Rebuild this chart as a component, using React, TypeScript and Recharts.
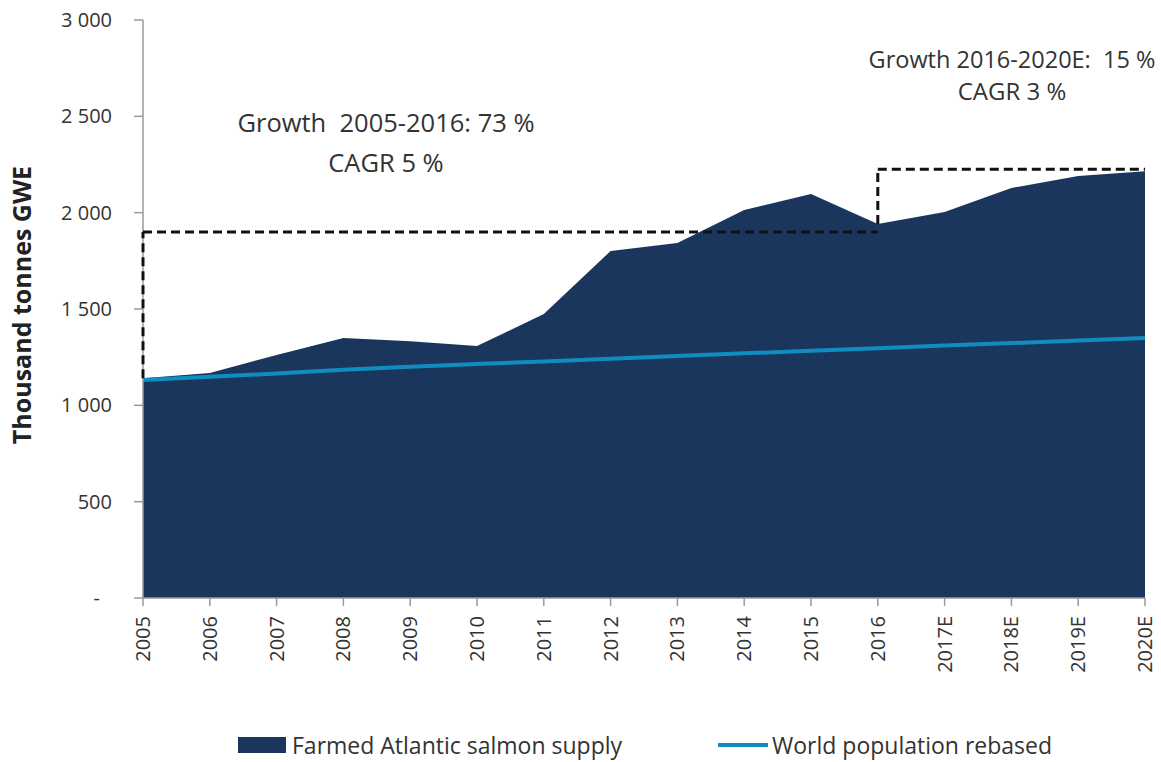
import { FC } from "react";
import {
  Area,
  ComposedChart,
  Legend,
  Line,
  ReferenceLine,
  XAxis,
  YAxis,
} from "recharts";

const years = [
  "2005", "2006", "2007", "2008", "2009", "2010", "2011", "2012",
  "2013", "2014", "2015", "2016", "2017E", "2018E", "2019E", "2020E",
];

// thousand tonnes GWE
const salmonSupply = [
  1140, 1168, 1261, 1350, 1332, 1308, 1474, 1801,
  1843, 2014, 2097, 1941, 2004, 2128, 2190, 2215,
];

// rebased to the 2005 supply
const worldPopulation = [
  1131, 1148, 1165, 1185, 1200, 1214, 1228, 1242,
  1256, 1270, 1283, 1296, 1310, 1323, 1337, 1350,
];

const yTicks = [0, 500, 1000, 1500, 2000, 2500, 3000];

const growthPeriods = [
  { from: "2005", to: "2016", level: 1900 },
  { from: "2016", to: "2020E", level: 2225 },
];

const NAVY = "#1A365D";
const TEAL = "#0F8DBE";
const TEXT = "#333333";
const AXIS = "#9a9a9a";
const FONT = "'Open Sans', sans-serif";

const data = years.map((year, i) => ({
  year,
  supply: salmonSupply[i],
  population: worldPopulation[i],
}));

const supplyAt = (year: string) => salmonSupply[years.indexOf(year)];

const formatThousands = (v: number) =>
  v === 0 ? "-" : String(v).replace(/\B(?=(\d{3})+(?!\d))/g, " ");

const YTick: FC<any> = ({ x, y, payload }) => (
  <text
    x={payload.value === 0 ? x - 12 : x}
    y={y}
    dy="0.35em"
    textAnchor="end"
    fill={TEXT}
    fontSize={20}
    fontFamily={FONT}
  >
    {formatThousands(payload.value)}
  </text>
);

const XTick: FC<any> = ({ x, y, payload }) => (
  <text
    x={x}
    y={y}
    dy="0.35em"
    textAnchor="end"
    transform={`rotate(-90, ${x}, ${y})`}
    fill={TEXT}
    fontSize={20}
    fontFamily={FONT}
  >
    {payload.value}
  </text>
);

const LegendContent: FC<any> = () => (
  <div
    style={{
      position: "relative",
      height: 30,
      fontFamily: FONT,
      fontSize: 23,
      color: TEXT,
    }}
  >
    <div style={{ position: "absolute", left: 238, top: 0, display: "flex", alignItems: "center", height: 30, whiteSpace: "nowrap" }}>
      <span style={{ display: "inline-block", width: 48, height: 16, background: NAVY, marginRight: 6 }} />
      Farmed Atlantic salmon supply
    </div>
    <div style={{ position: "absolute", left: 718, top: 0, display: "flex", alignItems: "center", height: 30, whiteSpace: "nowrap" }}>
      <span style={{ display: "inline-block", width: 50, height: 4, background: TEAL, marginRight: 4 }} />
      World population rebased
    </div>
  </div>
);

const annotationStyle = {
  fill: TEXT,
  fontSize: 25.5,
  fontFamily: FONT,
};

const App: FC = () => {
  return (
    <div style={{ fontFamily: FONT, position: "absolute", top: 0, left: 0 }}>
      <ComposedChart
        width={1161}
        height={762}
        data={data}
        margin={{ top: 20, right: 16, left: 0, bottom: 0 }}
      >
        <XAxis
          dataKey="year"
          scale="point"
          height={164}
          interval={0}
          tickSize={8}
          tickMargin={10}
          stroke={AXIS}
          strokeWidth={1.5}
          tick={<XTick />}
        />
        <YAxis
          width={143}
          domain={[0, 3000]}
          ticks={yTicks}
          tickSize={9}
          tickMargin={22}
          stroke={AXIS}
          strokeWidth={1.5}
          tick={<YTick />}
          label={{
            content: () => (
              <text
                x={31}
                y={305}
                transform="rotate(-90, 31, 305)"
                textAnchor="middle"
                fill="#222"
                fontSize={25}
                fontWeight="bold"
                fontFamily={FONT}
              >
                Thousand tonnes GWE
              </text>
            ),
          }}
        />
        <Area
          type="linear"
          dataKey="supply"
          name="Farmed Atlantic salmon supply"
          fill={NAVY}
          fillOpacity={1}
          stroke="none"
          isAnimationActive={false}
        />
        <Line
          type="linear"
          dataKey="population"
          name="World population rebased"
          stroke={TEAL}
          strokeWidth={4}
          dot={false}
          activeDot={false}
          isAnimationActive={false}
        />
        {growthPeriods.map((p) => (
          <ReferenceLine
            key={`v-${p.from}`}
            segment={[
              { x: p.from, y: supplyAt(p.from) },
              { x: p.from, y: p.level },
            ]}
            ifOverflow="visible"
            zIndex={1000}
            stroke="#111"
            strokeWidth={3}
            strokeDasharray="9 5"
          />
        ))}
        {growthPeriods.map((p) => (
          <ReferenceLine
            key={`h-${p.from}`}
            segment={[
              { x: p.from, y: p.level },
              { x: p.to, y: p.level },
            ]}
            ifOverflow="visible"
            zIndex={1000}
            stroke="#111"
            strokeWidth={3}
            strokeDasharray="9 5"
          />
        ))}
        <text x={386} y={132} textAnchor="middle" style={annotationStyle} xmlSpace="preserve">
          {"Growth  2005-2016: 73 %"}
        </text>
        <text x={386} y={172} textAnchor="middle" style={annotationStyle}>
          CAGR 5 %
        </text>
        <text x={1012} y={68} textAnchor="middle" style={{ ...annotationStyle, fontSize: 23.5 }} xmlSpace="preserve">
          {"Growth 2016-2020E:  15 %"}
        </text>
        <text x={1012} y={100} textAnchor="middle" style={{ ...annotationStyle, fontSize: 24 }}>
          CAGR 3 %
        </text>
        <Legend
          layout="horizontal"
          verticalAlign="middle"
          align="center"
          wrapperStyle={{ top: 730, left: 0, width: 1161 }}
          content={<LegendContent />}
        />
      </ComposedChart>
    </div>
  );
};

export default App;
